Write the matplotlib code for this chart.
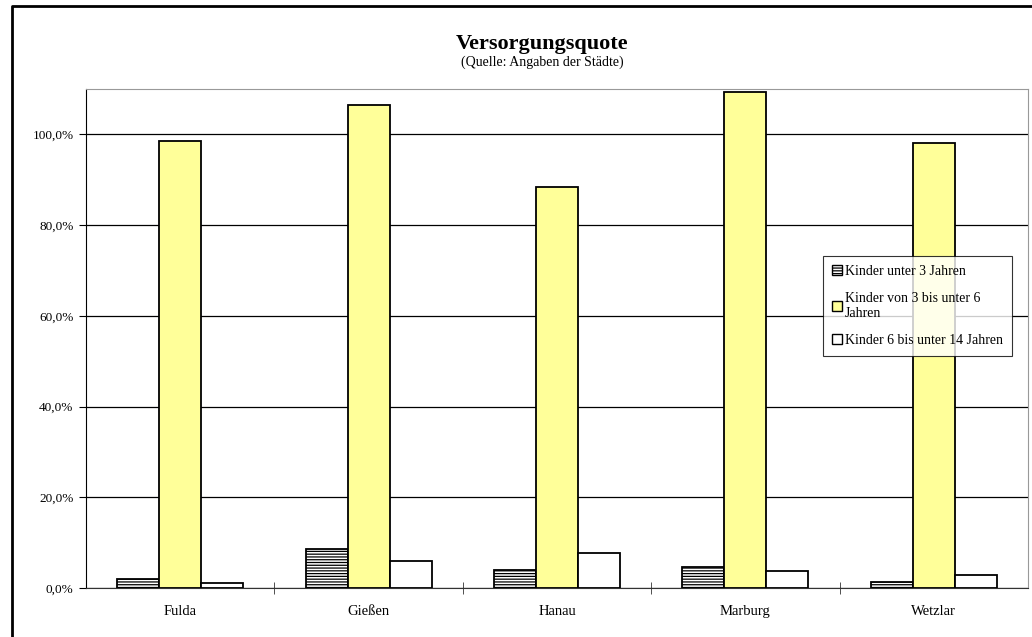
import numpy as np
import matplotlib.pyplot as plt
from matplotlib.patches import Patch
from matplotlib.lines import Line2D
from matplotlib.ticker import FuncFormatter

# Versorgungsquote je Stadt (in Prozent)
staedte = ["Fulda", "Gießen", "Hanau", "Marburg", "Wetzlar"]
unter_3 = [2.0, 8.7, 4.0, 4.6, 1.3]
von_3_bis_6 = [98.5, 106.4, 88.3, 109.3, 98.2]
von_6_bis_14 = [1.2, 6.0, 7.7, 3.8, 2.9]
reihen = ["Kinder unter 3 Jahren", "Kinder von 3 bis unter 6\nJahren",
          "Kinder 6 bis unter 14 Jahren"]
y_ticks = [0, 20, 40, 60, 80, 100]

plt.rcParams['font.family'] = ['Liberation Serif', 'DejaVu Serif']
plt.rcParams['hatch.linewidth'] = 0.9

W, H = 1032, 637
fig = plt.figure(figsize=(W / 100, H / 100), dpi=100)
ax = fig.add_axes([86 / W, 1 - 588 / H, (1028 - 86) / W, (588 - 89) / H])

x = np.arange(len(staedte))
b = 0.223
ax.bar(x - b, unter_3, b, color='white', edgecolor='black', hatch='------',
       linewidth=1.3, zorder=3)
ax.bar(x, von_3_bis_6, b, color='#FFFF99', edgecolor='black', linewidth=1.3, zorder=3)
ax.bar(x + b, von_6_bis_14, b, color='white', edgecolor='black', linewidth=1.3, zorder=3)

ax.set_xlim(-0.5, len(staedte) - 0.5)
ax.set_ylim(0, 110)
ax.set_yticks(y_ticks)
ax.yaxis.set_major_formatter(FuncFormatter(lambda v, p: f"{v:.1f}%".replace('.', ',')))
ax.yaxis.grid(True, color='black', linewidth=0.9, zorder=0)
ax.tick_params(axis='y', direction='out', length=5, labelsize=9.5, pad=4)

ax.set_xticks(x)
ax.set_xticklabels(staedte)
ax.tick_params(axis='x', which='major', length=0, labelsize=10.5, pad=12)
ax.set_xticks(np.arange(0.5, len(staedte) - 0.5), minor=True)
ax.tick_params(axis='x', which='minor', direction='inout', length=8, color='#333333')

ax.spines['left'].set_color('black')
ax.spines['bottom'].set_color('#333333')
ax.spines['top'].set_color('#999999')
ax.spines['right'].set_color('#999999')

fig.text(542 / W, 1 - 44 / H, "Versorgungsquote", ha='center', va='center',
         fontsize=16, fontweight='bold')
fig.text(542 / W, 1 - 62 / H, "(Quelle: Angaben der Städte)", ha='center',
         va='center', fontsize=10)

handles = [Patch(facecolor='white', edgecolor='black', hatch='------'),
           Patch(facecolor='#FFFF99', edgecolor='black'),
           Patch(facecolor='white', edgecolor='black')]
leg = fig.legend(handles, reihen, loc='upper left',
                 bbox_to_anchor=(823 / W, 1 - 256 / H), fontsize=10,
                 frameon=True, fancybox=False, edgecolor='black',
                 handlelength=0.7, handleheight=0.7, handletextpad=0.2,
                 labelspacing=1.0, borderpad=0.65, borderaxespad=0)
leg.get_frame().set_linewidth(0.8)

# Rahmen um die Grafik (nur links und oben sichtbar)
fig.add_artist(Line2D([1.0, 12 / W, 12 / W], [1 - 6 / H, 1 - 6 / H, 0.0],
                      transform=fig.transFigure, color='black', linewidth=2,
                      solid_capstyle='butt'))

fig.savefig("out.png", dpi=100)
